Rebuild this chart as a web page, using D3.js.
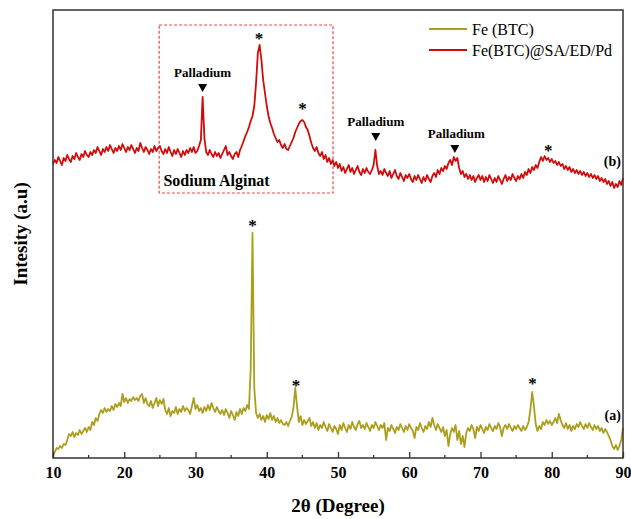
<!DOCTYPE html>
<html>
<head>
<meta charset="utf-8">
<script src="https://cdn.jsdelivr.net/npm/d3@7"></script>
<style>
  body { margin: 0; background: #fff; }
  text { font-family: "Liberation Serif", "Times New Roman", serif; }
</style>
</head>
<body>
<div id="chart"></div>
<script>
// scan range, 0.25 degree step
var scanStart = 10, scanEnd = 90;

// (a) Fe (BTC), one row per 5 degrees
var feBTC = [
  2, 6, 10, 9, 12, 10, 14, 13, 18, 24, 22, 26, 21, 25, 23, 28, 24, 27, 30, 26,
  31, 28, 36, 33, 40, 37, 44, 48, 45, 50, 46, 49, 47, 52, 48, 54, 51, 55, 52, 64,
  56, 60, 55, 59, 57, 61, 58, 60, 57, 62, 64, 55, 60, 54, 52, 57, 50, 55, 60, 52,
  58, 54, 59, 48, 44, 50, 42, 47, 45, 51, 44, 49, 46, 52, 47, 50, 48, 44, 52, 60,
  49, 53, 47, 50, 45, 51, 47, 53, 48, 55, 50, 46, 51, 47, 44, 48, 43, 49, 45, 40,
  47, 43, 38, 46, 42, 49, 44, 50, 47, 53, 49, 90, 225, 70, 45, 40, 44, 38, 42, 36,
  43, 39, 45, 38, 42, 36, 40, 35, 38, 34, 33, 36, 32, 37, 41, 50, 70, 52, 36, 42,
  33, 38, 34, 37, 40, 32, 36, 30, 35, 28, 33, 30, 36, 31, 27, 34, 30, 26, 32, 29,
  24, 33, 28, 35, 30, 26, 33, 29, 36, 31, 28, 34, 37, 30, 33, 29, 35, 31, 27, 33,
  30, 36, 32, 28, 33, 30, 35, 18, 30, 27, 33, 29, 25, 31, 28, 34, 30, 26, 32, 28,
  34, 30, 27, 20, 31, 28, 35, 30, 26, 32, 29, 36, 31, 40, 33, 28, 34, 30, 26, 31,
  22, 28, 12, 24, 30, 26, 33, 18, 27, 14, 22, 11, 25, 30, 27, 33, 29, 20, 31, 27,
  33, 29, 25, 31, 28, 34, 30, 27, 32, 29, 35, 31, 22, 30, 33, 29, 34, 30, 27, 32,
  29, 33, 30, 27, 32, 28, 31, 36, 48, 66, 52, 34, 27, 32, 29, 36, 33, 38, 34, 37,
  33, 36, 40, 35, 44, 38, 33, 30, 35, 29, 33, 27, 32, 29, 34, 31, 36, 32, 29, 34,
  30, 35, 31, 28, 33, 29, 32, 27, 30, 25, 29, 26, 22, 18, 12, 9, 13, 8, 12, 18,
  30
];

// (b) Fe(BTC)@SA/ED/Pd
var feBTCPd = [
  294, 298, 295, 301, 297, 293, 300, 297, 303, 299, 296, 302, 299, 305, 301, 298, 304, 301, 307, 303,
  301, 306, 303, 308, 305, 311, 307, 303, 309, 306, 311, 307, 313, 309, 305, 310, 307, 312, 308, 314,
  310, 306, 311, 308, 313, 309, 305, 310, 307, 315, 310, 306, 311, 308, 304, 309, 306, 312, 307, 310,
  312, 307, 304, 309, 305, 311, 306, 302, 308, 304, 309, 305, 301, 307, 303, 308, 305, 310, 306, 311,
  305, 307, 312, 318, 361, 320, 306, 303, 308, 304, 301, 306, 302, 305, 300, 304, 308, 312, 303, 306,
  302, 299, 304, 306, 301, 308, 312, 317, 322, 326, 331, 337, 342, 352, 375, 405, 413, 398, 378, 365,
  352, 342, 335, 330, 324, 320, 316, 318, 313, 310, 314, 309, 308, 312, 316, 320, 326, 330, 334, 337,
  338, 336, 331, 328, 322, 315, 310, 307, 311, 305, 302, 306, 299, 303, 296, 300, 294, 298, 292, 296,
  290, 294, 287, 291, 285, 289, 293, 286, 290, 284, 288, 292, 286, 283, 289, 285, 290, 286, 284, 288,
  293, 308, 292, 284, 287, 283, 289, 285, 282, 287, 280, 284, 288, 282, 279, 285, 281, 277, 283, 280,
  284, 279, 276, 282, 278, 283, 279, 275, 281, 277, 283, 279, 276, 282, 285, 281, 288, 284, 290, 287,
  292, 289, 295, 298, 293, 301, 297, 300, 290, 284, 287, 281, 284, 279, 283, 278, 282, 276, 280, 283,
  278, 282, 276, 281, 277, 283, 279, 275, 280, 276, 282, 278, 274, 279, 283, 277, 281, 278, 284, 280,
  277, 282, 279, 284, 280, 286, 283, 289, 285, 291, 288, 293, 290, 296, 301, 297, 302, 298, 300, 296,
  299, 295, 297, 293, 296, 292, 294, 289, 292, 288, 291, 286, 289, 285, 288, 284, 287, 283, 286, 282,
  285, 281, 284, 280, 283, 279, 282, 277, 280, 276, 279, 274, 277, 272, 276, 270, 274, 271, 277, 273,
  280
];

var seriesNames = ["Fe (BTC)", "Fe(BTC)@SA/ED/Pd"];
var seriesColors = ["#ab9e1c", "#d20a0a"];
var xTicks = [10, 20, 30, 40, 50, 60, 70, 80, 90];
var xMinorTicks = [15, 25, 35, 45, 55, 65, 75, 85];

// peak marks: [2theta, intensity]
var starMarks = [[38.0, 236], [44.1, 76], [77.3, 78], [38.9, 423], [45.0, 353], [79.5, 311]];
var pdMarks = [[31.0, 31.0, 370], [55.3, 55.3, 321], [66.4, 66.6, 309]];
var curveLabels = [["(a)", 43], ["(b)", 297]];

var svgWidth = 631;
var svgHeight = 519;
var margin = { top: 10, right: 8, bottom: 61, left: 53 };
var chartWidth = svgWidth - margin.left - margin.right;
var chartHeight = svgHeight - margin.top - margin.bottom;

var svg = d3.select("#chart")
  .append("svg")
  .attr("width", svgWidth)
  .attr("height", svgHeight);

var chartGroup = svg.append("g")
  .attr("transform", `translate(${margin.left}, ${margin.top})`);

var xScale = d3.scaleLinear().domain([scanStart, scanEnd]).range([0, chartWidth]);
var yScale = d3.scaleLinear().domain([0, 448]).range([chartHeight, 0]);

function toPoints(values) {
  var step = (scanEnd - scanStart) / (values.length - 1);
  return values.map((v, i) => [scanStart + i * step, v]);
}

var line = d3.line()
  .x(d => xScale(d[0]))
  .y(d => yScale(d[1]));

// dashed box round the sodium alginate region
chartGroup.append("rect")
  .attr("x", xScale(24.9))
  .attr("y", yScale(433))
  .attr("width", xScale(49.3) - xScale(24.9))
  .attr("height", yScale(265) - yScale(433))
  .attr("fill", "none")
  .attr("stroke", "#e8474c")
  .attr("stroke-width", 1.2)
  .attr("stroke-dasharray", "3,2");

[feBTC, feBTCPd].forEach(function(values, i) {
  chartGroup.append("path")
    .datum(toPoints(values))
    .attr("fill", "none")
    .attr("stroke", seriesColors[i])
    .attr("stroke-width", 1.8)
    .attr("stroke-linejoin", "round")
    .attr("d", line);
});

// axis with inward ticks
var bottomAxis = d3.axisBottom(xScale).tickValues(xTicks).tickSize(-6).tickPadding(9);
var xAxisG = chartGroup.append("g")
  .attr("transform", `translate(0, ${chartHeight})`)
  .call(bottomAxis);
xAxisG.select(".domain").remove();
xAxisG.selectAll("line").attr("stroke", "#333").attr("stroke-width", 1.3);
xAxisG.selectAll("text")
  .attr("font-family", "Liberation Serif")
  .attr("font-size", 16)
  .attr("font-weight", "bold")
  .attr("fill", "#000");

chartGroup.append("g")
  .selectAll("line")
  .data(xMinorTicks)
  .enter()
  .append("line")
  .attr("x1", d => xScale(d))
  .attr("x2", d => xScale(d))
  .attr("y1", chartHeight)
  .attr("y2", chartHeight - 3)
  .attr("stroke", "#333")
  .attr("stroke-width", 1.3);

// frame
chartGroup.append("rect")
  .attr("width", chartWidth)
  .attr("height", chartHeight)
  .attr("fill", "none")
  .attr("stroke", "#333")
  .attr("stroke-width", 1.5);

// asterisks
chartGroup.selectAll(".star")
  .data(starMarks)
  .enter()
  .append("text")
  .attr("class", "star")
  .attr("x", d => xScale(d[0]))
  .attr("y", d => yScale(d[1]) + 9)
  .attr("text-anchor", "middle")
  .attr("font-size", 17)
  .attr("font-weight", "bold")
  .text("*");

// palladium labels and triangles
var pd = chartGroup.selectAll(".pd")
  .data(pdMarks)
  .enter()
  .append("g")
  .attr("class", "pd");
pd.append("text")
  .attr("x", d => xScale(d[1]))
  .attr("y", d => yScale(d[2]) - 11)
  .attr("text-anchor", "middle")
  .attr("font-size", 13)
  .attr("font-weight", "bold")
  .text("Palladium");
pd.append("path")
  .attr("transform", d => `translate(${xScale(d[0])}, ${yScale(d[2])})`)
  .attr("d", "M-4.5,-4 L4.5,-4 L0,4 Z")
  .attr("fill", "#000");

chartGroup.append("text")
  .attr("x", xScale(25.5))
  .attr("y", yScale(272))
  .attr("font-size", 16)
  .attr("font-weight", "bold")
  .text("Sodium Alginat");

chartGroup.selectAll(".curveLabel")
  .data(curveLabels)
  .enter()
  .append("text")
  .attr("class", "curveLabel")
  .attr("x", xScale(89.7))
  .attr("y", d => yScale(d[1]) + 5)
  .attr("text-anchor", "end")
  .attr("font-size", 14)
  .attr("font-weight", "bold")
  .text(d => d[0]);

// legend
var legend = chartGroup.selectAll(".legend")
  .data(seriesNames)
  .enter()
  .append("g")
  .attr("class", "legend")
  .attr("transform", (d, i) => `translate(${376}, ${19 + i * 21})`);
legend.append("line")
  .attr("x1", 0)
  .attr("x2", 38)
  .attr("stroke", (d, i) => seriesColors[i])
  .attr("stroke-width", 2);
legend.append("text")
  .attr("x", 43)
  .attr("y", 5.5)
  .attr("font-size", 16)
  .text(d => d);

// axis titles
svg.append("text")
  .attr("x", margin.left + chartWidth / 2)
  .attr("y", 512)
  .attr("text-anchor", "middle")
  .attr("font-size", 19)
  .attr("font-weight", "bold")
  .text("2θ (Degree)");

svg.append("text")
  .attr("transform", "translate(27, 234) rotate(-90)")
  .attr("text-anchor", "middle")
  .attr("font-size", 19)
  .attr("font-weight", "bold")
  .text("Intesity (a.u)");
</script>
</body>
</html>
